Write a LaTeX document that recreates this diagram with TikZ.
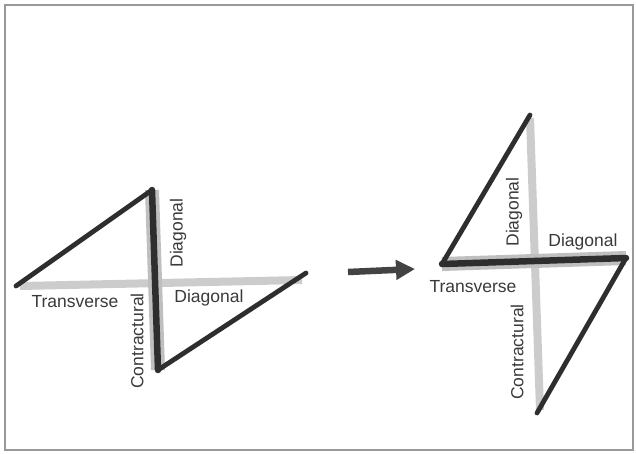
\documentclass[tikz,border=0pt]{standalone}
\usepackage{fontspec}
\setmainfont{Liberation Sans}
\usetikzlibrary{arrows.meta}
\definecolor{ink}{HTML}{2E2E2E}
\definecolor{txt}{HTML}{3A3A3A}
\begin{document}
\begin{tikzpicture}[x=1pt,y=-1pt,
  frame/.style={draw=gray!80,line width=1.3pt},
  muscle/.style={draw=ink,line width=4.8pt,line cap=round},
  strongmuscle/.style={draw=ink,line width=6.5pt,line cap=round},
  hatch/.style={draw=gray!40,line width=8pt},
  hatchwide/.style={draw=gray!50,line width=14pt},
  lab/.style={text=txt,font=\fontsize{17.5}{20}\selectfont,inner sep=0pt},
  vlab/.style={lab,rotate=90},
  bigarrow/.style={draw=ink!90,line width=6.5pt,-{Triangle[length=19pt,width=19pt]}}]
\useasboundingbox (0,0) rectangle (636,453);
\draw[frame] (5,5) rectangle (633,450);
% left figure
\coordinate (L1) at (16,286);
\coordinate (L2) at (152,190);
\coordinate (L3) at (158,370);
\coordinate (L4) at (306,273);
\coordinate (T1) at (20,286);
\coordinate (T2) at (302,280);
\draw[hatch] (T1) -- (T2);
\draw[hatchwide] (L2) -- (L3);
\draw[muscle] (L1) -- (L2);
\draw[strongmuscle] (L2) -- (L3);
\draw[muscle] (L3) -- (L4);
\node[vlab] (ld1) at (178,233) {Diagonal};
\node[vlab] (lc) at (137,341) {Contractural};
\node[lab] (lt) at (75,302) {Transverse};
\node[lab] (ld2) at (209,298) {Diagonal};
% arrow
\coordinate (A1) at (348,272);
\coordinate (A2) at (415,269);
\draw[bigarrow] (A1) -- (A2);
% right figure
\coordinate (R1) at (530,115);
\coordinate (R2) at (442,264);
\coordinate (R3) at (626,258);
\coordinate (R4) at (537,413);
\coordinate (V1) at (530,118);
\coordinate (V2) at (540,410);
\draw[hatch] (V1) -- (V2);
\draw[hatchwide] (R2) -- (R3);
\draw[muscle] (R1) -- (R2);
\draw[strongmuscle] (R2) -- (R3);
\draw[muscle] (R3) -- (R4);
\node[vlab] (rd1) at (514,212) {Diagonal};
\node[lab] (rd2) at (583,242) {Diagonal};
\node[lab] (rt) at (473,287) {Transverse};
\node[vlab] (rc) at (517,352) {Contractural};
\end{tikzpicture}
\end{document}
